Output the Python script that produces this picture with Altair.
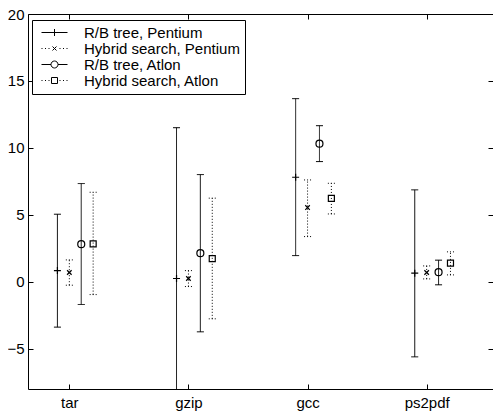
import json
import altair as alt
import pandas as pd

# ---- data ----
categories = ["tar", "gzip", "gcc", "ps2pdf"]
series = ["R/B tree, Pentium", "Hybrid search, Pentium", "R/B tree, Atlon", "Hybrid search, Atlon"]

rb_pentium_mean = [0.84, 0.25, 7.81, 0.65]
rb_pentium_low = [-3.38, -11.0, 1.96, -5.60]
rb_pentium_high = [5.05, 11.51, 13.68, 6.87]

hy_pentium_mean = [0.70, 0.25, 5.55, 0.70]
hy_pentium_low = [-0.25, -0.35, 3.38, 0.22]
hy_pentium_high = [1.64, 0.84, 7.61, 1.19]

rb_atlon_mean = [2.81, 2.14, 10.32, 0.72]
rb_atlon_low = [-1.69, -3.73, 8.98, -0.22]
rb_atlon_high = [7.34, 8.01, 11.66, 1.62]

hy_atlon_mean = [2.84, 1.74, 6.24, 1.40]
hy_atlon_low = [-0.95, -2.76, 5.07, 0.52]
hy_atlon_high = [6.69, 6.25, 7.36, 2.24]

y_ticks = [-5, 0, 5, 10, 15, 20]

# ---- build table ----
group_shift = [-0.1, 0.0, 0.1, 0.2]
all_series = [
    (rb_pentium_mean, rb_pentium_low, rb_pentium_high),
    (hy_pentium_mean, hy_pentium_low, hy_pentium_high),
    (rb_atlon_mean, rb_atlon_low, rb_atlon_high),
    (hy_atlon_mean, hy_atlon_low, hy_atlon_high),
]
rows = []
for si, (m, lo, hi) in enumerate(all_series):
    for ci, cat in enumerate(categories):
        rows.append({
            "series": series[si],
            "category": cat,
            "pos": ci + 1 + group_shift[si],
            "mean": m[ci],
            "low": lo[ci],
            "high": hi[ci],
        })
df = pd.DataFrame(rows)

FONT = "Liberation Sans"

x_scale = alt.Scale(domain=[0.653, 4.557], nice=False, zero=False)
y_scale = alt.Scale(domain=[-8, 20], nice=False, zero=False)
dash_scale = alt.Scale(domain=series, range=[[1, 0], [1, 2], [1, 0], [1, 2]])

label_expr = json.dumps(categories) + "[datum.value - 1]"

INWARD = {"expr": "-5"}
common_axis = dict(tickSize=INWARD, tickWidth=1, tickColor="black",
                   domainColor="black", domainWidth=1, grid=False, title=None)

x_bottom = alt.Axis(orient="bottom", values=[1, 2, 3, 4], labelExpr=label_expr,
                    labelFont=FONT, labelFontSize=15, labelColor="black",
                    labelPadding=11, labelFlush=False, labelOverlap=False,
                    domain=True, **common_axis)
y_left = alt.Axis(orient="left", values=y_ticks, labelFont=FONT, labelFontSize=15,
                  labelColor="black", labelPadding=9, labelFlush=False,
                  labelOverlap=False, domain=True, **common_axis)
x_top = alt.Axis(orient="top", values=[1, 2, 3, 4], labels=False, domain=True,
                 **common_axis)
y_right = alt.Axis(orient="right", values=y_ticks, labels=False, domain=False,
                   **common_axis)

base = alt.Chart(df)

bars = base.mark_rule(clip=True, color="black", strokeWidth=1).encode(
    x=alt.X("pos:Q", scale=x_scale, axis=x_bottom),
    y=alt.Y("low:Q", scale=y_scale, axis=y_left),
    y2="high:Q",
    strokeDash=alt.StrokeDash("series:N", scale=dash_scale, legend=None),
)

cap_hi = base.mark_rule(clip=True, color="black", strokeWidth=1,
                        xOffset=-3.5, x2Offset=3.5).encode(
    x=alt.X("pos:Q", scale=x_scale, axis=None),
    x2="pos:Q",
    y=alt.Y("high:Q", scale=y_scale, axis=None),
    strokeDash=alt.StrokeDash("series:N", scale=dash_scale, legend=None),
)
cap_lo = base.mark_rule(clip=True, color="black", strokeWidth=1,
                        xOffset=-3.5, x2Offset=3.5).encode(
    x=alt.X("pos:Q", scale=x_scale, axis=None),
    x2="pos:Q",
    y=alt.Y("low:Q", scale=y_scale, axis=None),
    strokeDash=alt.StrokeDash("series:N", scale=dash_scale, legend=None),
)

marker_paths = [
    "M-1,0L1,0M0,-1L0,1",
    "M-0.65,-0.65L0.65,0.65M-0.65,0.65L0.65,-0.65",
    "circle",
    "M-0.86,-0.86L0.86,-0.86L0.86,0.86L-0.86,0.86Z",
]
markers = base.mark_point(filled=False, color="black", strokeWidth=1.2, size=49,
                          opacity=1, clip=True).encode(
    x=alt.X("pos:Q", scale=x_scale, axis=x_top),
    y=alt.Y("mean:Q", scale=y_scale, axis=y_right),
    shape=alt.Shape("series:N", scale=alt.Scale(domain=series, range=marker_paths),
                    legend=None),
)


# legend symbols: short line (solid or dotted) with the marker in the middle
def dots(inner):
    segs = []
    for c in [1.1, 1.8, 2.5]:
        if c > inner:
            segs.append(f"M{-c - 0.1:.2f},0L{-c + 0.1:.2f},0M{c - 0.1:.2f},0L{c + 0.1:.2f},0")
    return "".join(segs)


legend_paths = [
    "M-2.6,0L2.6,0M0,-0.7L0,0.7",
    dots(0.5) + "M-0.4,-0.4L0.4,0.4M-0.4,0.4L0.4,-0.4",
    "M-2.6,0L-0.7,0M0.7,0L2.6,0M-0.7,0A0.7,0.7,0,1,0,0.7,0A0.7,0.7,0,1,0,-0.7,0",
    dots(0.6) + "M-0.6,-0.6L0.6,-0.6L0.6,0.6L-0.6,0.6Z",
]
legend_layer = base.mark_point(filled=False, color="black", strokeWidth=1,
                               size=100, opacity=1).transform_filter("false").encode(
    shape=alt.Shape(
        "series:N",
        scale=alt.Scale(domain=series, range=legend_paths),
        legend=alt.Legend(
            title=None, orient="none", legendX=4, legendY=6,
            padding=5, strokeColor="black", fillColor="white",
            labelFont=FONT, labelFontSize=15, labelColor="black",
            labelLimit=400, symbolSize=100, symbolStrokeWidth=1,
            symbolStrokeColor="black", symbolFillColor="transparent",
            symbolOpacity=1, symbolOffset=10, labelOffset=22, rowPadding=-0.8,
        ),
    ),
)

chart = alt.layer(bars, cap_hi, cap_lo, markers, legend_layer).resolve_scale(
    shape="independent"
).resolve_axis(
    x="independent", y="independent"
).properties(
    width=465, height=375,
    padding={"left": 20, "top": 6, "right": 0, "bottom": 23},
    autosize=alt.AutoSizeParams(type="none"),
    background="white",
).configure_view(stroke=None)

chart.save("out.html", embed_options={"renderer": "svg", "actions": False})
